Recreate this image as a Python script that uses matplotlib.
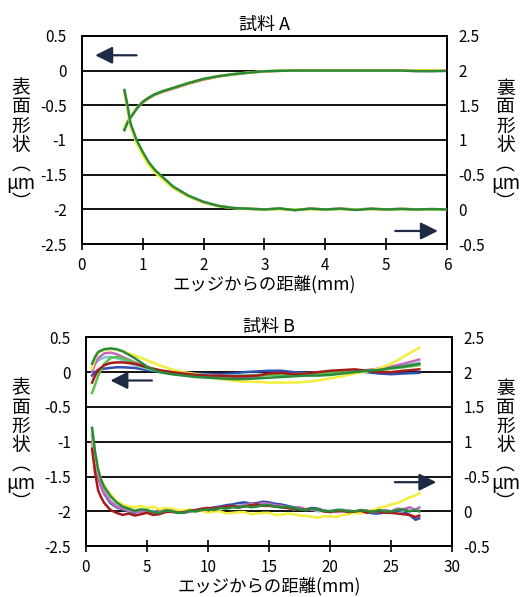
import matplotlib.pyplot as plt

plt.rcParams['font.family'] = ['Noto Sans CJK JP', 'DejaVu Sans']

# ---- 試料 A ----
xa = [0.7, 0.75, 0.8, 0.9, 1.0, 1.1, 1.2, 1.35, 1.5, 1.75, 2.0, 2.25, 2.5, 2.75,
      3.0, 3.25, 3.5, 3.75, 4.0, 4.25, 4.5, 4.75, 5.0, 5.25, 5.5, 5.75, 6.0]
# surface shape (left axis)
a_front = {
    'orange': [-0.84, -0.74, -0.67, -0.55, -0.46, -0.40, -0.35, -0.30, -0.26, -0.19, -0.13, -0.085, -0.055, -0.03,
               -0.012, -0.004, 0.0, 0.0, 0.0, 0.0, 0.0, 0.0, 0.0, 0.0, 0.0, 0.0, 0.0],
    'yellow': [-0.82, -0.73, -0.66, -0.54, -0.45, -0.39, -0.34, -0.29, -0.25, -0.18, -0.12, -0.08, -0.05, -0.028,
               -0.01, -0.003, 0.0, 0.0, 0.0, 0.0, 0.0, 0.0, 0.0, 0.0, 0.0, 0.0, 0.0],
    'green': [-0.86, -0.75, -0.68, -0.55, -0.45, -0.39, -0.34, -0.29, -0.25, -0.18, -0.12, -0.08, -0.05, -0.03,
              -0.01, -0.004, 0.0, 0.0, 0.0, 0.0, 0.0, 0.0, 0.0, 0.0, -0.01, -0.01, -0.005],
}
# back-surface shape (right axis)
a_back = {
    'orange': [1.70, 1.48, 1.22, 0.97, 0.80, 0.66, 0.55, 0.43, 0.31, 0.19, 0.10, 0.05, 0.02, 0.01,
               0.0, 0.01, -0.01, 0.01, 0.0, 0.01, 0.0, 0.01, 0.0, 0.01, 0.0, 0.005, 0.0],
    'yellow': [1.68, 1.46, 1.20, 0.95, 0.78, 0.64, 0.53, 0.42, 0.31, 0.19, 0.10, 0.045, 0.02, 0.005,
               0.0, 0.0, 0.005, 0.0, 0.0, 0.005, 0.0, 0.0, 0.0, 0.005, 0.0, 0.0, 0.0],
    'green': [1.72, 1.50, 1.24, 1.00, 0.83, 0.68, 0.57, 0.45, 0.33, 0.20, 0.11, 0.05, 0.02, 0.01,
              0.0, 0.015, -0.01, 0.012, 0.0, 0.012, -0.008, 0.01, 0.0, 0.006, 0.0, 0.005, 0.0],
}

# ---- 試料 B ----
xb_f = [0.5, 0.75, 1, 1.5, 2, 2.5, 3, 4, 5, 6, 7, 8, 9, 10, 11, 12, 13, 14, 15, 16,
        17, 18, 19, 20, 21, 22, 23, 24, 25, 26, 27.3]
b_front = {
    'blue':    [-0.05, 0.0, 0.03, 0.05, 0.06, 0.07, 0.07, 0.06, 0.03, 0.01, 0.0, -0.01, -0.02, -0.03, -0.03, -0.02,
                0.0, 0.01, 0.02, 0.02, 0.0, -0.01, -0.01, 0.0, 0.01, 0.01, 0.0, -0.02, -0.03, -0.02, -0.01],
    'cyan':    [0.05, 0.12, 0.17, 0.21, 0.22, 0.2, 0.17, 0.1, 0.05, 0.01, -0.01, -0.02, -0.03, -0.04, -0.05, -0.05,
                -0.04, -0.04, -0.03, -0.03, -0.03, -0.02, -0.01, 0.0, 0.01, 0.02, 0.02, 0.04, 0.06, 0.09, 0.13],
    'magenta': [0.0, 0.12, 0.2, 0.27, 0.28, 0.26, 0.22, 0.14, 0.07, 0.02, 0.0, -0.03, -0.05, -0.06, -0.07, -0.08,
                -0.08, -0.06, -0.03, -0.03, -0.05, -0.03, -0.02, 0.0, 0.01, 0.02, 0.03, 0.05, 0.08, 0.12, 0.18],
    'yellow':  [0.05, 0.2, 0.28, 0.32, 0.33, 0.32, 0.3, 0.24, 0.17, 0.1, 0.04, 0.0, -0.03, -0.07, -0.1, -0.12,
                -0.14, -0.14, -0.15, -0.15, -0.15, -0.14, -0.12, -0.09, -0.06, -0.02, 0.01, 0.05, 0.12, 0.22, 0.35],
    'lime':    [-0.3, -0.18, -0.05, 0.12, 0.2, 0.22, 0.2, 0.13, 0.06, 0.01, -0.02, -0.04, -0.05, -0.06, -0.06, -0.06,
                -0.05, -0.05, -0.04, -0.04, -0.04, -0.03, -0.02, -0.01, 0.0, 0.01, 0.02, 0.03, 0.05, 0.07, 0.1],
    'darkred': [-0.15, -0.05, 0.03, 0.1, 0.13, 0.14, 0.14, 0.12, 0.07, 0.03, 0.0, -0.02, -0.04, -0.05, -0.05, -0.06,
                -0.06, -0.05, -0.02, -0.01, -0.03, -0.02, 0.0, 0.02, 0.03, 0.04, 0.02, 0.0, 0.0, 0.02, 0.04],
    'green':   [0.12, 0.22, 0.29, 0.33, 0.34, 0.33, 0.3, 0.2, 0.08, 0.0, -0.03, -0.05, -0.07, -0.08, -0.09, -0.1,
                -0.1, -0.09, -0.08, -0.07, -0.06, -0.05, -0.05, -0.04, -0.02, 0.0, 0.02, 0.03, 0.06, 0.08, 0.12],
}
xb_b = [0.5, 0.75, 1, 1.25, 1.5, 2, 2.5, 3, 3.5, 4, 4.5, 5, 5.5, 6, 6.5, 7, 7.5, 8, 8.5, 9, 9.5, 10,
        10.5, 11, 11.5, 12, 12.5, 13, 13.5, 14, 14.5, 15, 15.5, 16, 16.5, 17, 17.5, 18, 18.5, 19, 19.5, 20,
        20.5, 21, 21.5, 22, 22.5, 23, 23.5, 24, 24.5, 25, 25.5, 26, 26.5, 27, 27.3]
b_back = {
    'blue':    [1.1, 0.75, 0.5, 0.35, 0.25, 0.12, 0.06, 0.03, 0.0, -0.02, 0.01, 0.01, -0.02, -0.01, 0.02, 0.02,
                -0.01, -0.02, 0.01, 0.01, 0.03, 0.04, 0.06, 0.07, 0.09, 0.1, 0.12, 0.13, 0.11, 0.12, 0.14, 0.13,
                0.11, 0.1, 0.08, 0.06, 0.05, 0.03, 0.05, 0.04, 0.01, 0.0, 0.02, 0.02, -0.01, -0.01, 0.01, 0.0,
                -0.03, -0.03, -0.01, -0.02, 0.01, 0.0, -0.05, -0.12, -0.1],
    'cyan':    [1.05, 0.72, 0.5, 0.37, 0.28, 0.15, 0.08, 0.04, 0.01, 0.0, 0.02, -0.01, 0.01, -0.02, 0.0, 0.01,
                -0.02, 0.0, -0.01, 0.01, 0.02, 0.03, 0.04, 0.06, 0.05, 0.07, 0.09, 0.08, 0.1, 0.09, 0.08, 0.1,
                0.07, 0.06, 0.05, 0.03, 0.04, 0.02, 0.03, 0.0, 0.01, -0.01, 0.01, 0.0, 0.02, -0.01, 0.0, 0.01,
                -0.01, 0.0, 0.02, 0.0, 0.03, 0.01, 0.05, 0.03, 0.06],
    'magenta': [1.0, 0.7, 0.48, 0.35, 0.26, 0.14, 0.07, 0.04, 0.02, 0.0, -0.01, 0.01, -0.02, 0.0, 0.01, -0.01,
                0.0, -0.02, 0.0, 0.02, 0.01, 0.04, 0.05, 0.05, 0.07, 0.08, 0.07, 0.09, 0.11, 0.1, 0.12, 0.11,
                0.09, 0.08, 0.06, 0.05, 0.06, 0.03, 0.02, 0.03, 0.0, 0.01, -0.01, 0.0, 0.01, 0.0, -0.02, 0.0,
                0.01, -0.01, 0.02, 0.0, 0.04, 0.03, 0.06, 0.02, 0.05],
    'yellow':  [1.15, 0.8, 0.58, 0.45, 0.37, 0.25, 0.15, 0.1, 0.07, 0.06, 0.08, 0.05, 0.07, 0.03, 0.05, 0.04,
                0.02, 0.01, 0.03, 0.0, 0.01, -0.02, 0.0, 0.0, -0.03, -0.02, -0.01, -0.01, -0.04, -0.03, -0.02, -0.02,
                -0.05, -0.05, -0.03, -0.04, -0.06, -0.06, -0.08, -0.09, -0.07, -0.07, -0.08, -0.05, -0.04, -0.02, -0.03, 0.0,
                0.02, 0.05, 0.07, 0.1, 0.12, 0.16, 0.2, 0.23, 0.26],
    'darkred': [0.9, 0.55, 0.3, 0.2, 0.12, 0.02, -0.02, -0.05, -0.03, -0.06, -0.04, -0.02, -0.05, -0.04, -0.01, 0.0,
                -0.02, -0.01, 0.01, 0.02, 0.04, 0.05, 0.04, 0.06, 0.07, 0.08, 0.06, 0.07, 0.09, 0.1, 0.08, 0.08,
                0.07, 0.06, 0.05, 0.04, 0.03, 0.02, 0.04, 0.03, 0.0, -0.01, 0.01, 0.01, -0.01, 0.0, 0.01, -0.02,
                0.0, 0.0, -0.02, -0.02, -0.03, -0.04, -0.05, -0.08, -0.06],
    'green':   [1.2, 0.85, 0.6, 0.45, 0.35, 0.22, 0.13, 0.07, 0.04, 0.01, 0.03, 0.02, -0.01, -0.02, 0.01, 0.01,
                -0.02, -0.02, 0.01, 0.0, 0.02, 0.03, 0.02, 0.05, 0.04, 0.06, 0.05, 0.08, 0.06, 0.07, 0.09, 0.09,
                0.07, 0.06, 0.07, 0.05, 0.03, 0.02, 0.04, 0.03, 0.01, 0.0, 0.02, 0.02, 0.0, 0.0, 0.02, 0.01,
                -0.01, 0.02, 0.0, 0.0, 0.02, 0.03, 0.0, 0.02, 0.0],
}

colors = {
    'orange': '#d0642c', 'yellow': '#f2ee3a', 'green': '#2a8a3c', 'lime': '#5cc04a',
    'blue': '#2f4fb0', 'cyan': '#7cc8d8', 'magenta': '#c46ab8', 'darkred': '#a61c1c',
}

right_labels = ['-0.5', '0', '-0.5', '1', '1.5', '2', '2.5']
left_ticks = [-2.5, -2, -1.5, -1, -0.5, 0, 0.5]
left_labels = ['-2.5', '-2', '-1.5', '-1', '-0.5', '0', '0.5']
arrow_col = '#1d2b45'
fs = 11


def panel(rect, title, xmax, xstep, xf, front, xb, back, arrows):
    ax = fig.add_axes(rect)
    ax.set_xlim(0, xmax)
    ax.set_ylim(-2.5, 0.5)
    for y in [-2, -1.5, -1, -0.5, 0]:
        ax.axhline(y, color='black', lw=1.3, zorder=1)
    for k, v in front.items():
        ax.plot(xf, v, color=colors[k], lw=1.8, zorder=3)
    ax.set_yticks(left_ticks)
    ax.set_yticklabels(left_labels, fontsize=fs)
    ax.tick_params(axis='y', length=0, pad=11)
    ax.set_xticks(range(0, xmax + 1, xstep))
    ax.tick_params(axis='x', direction='inout', length=8, width=1.2, pad=5, labelsize=fs)
    for s in ax.spines.values():
        s.set_linewidth(1.3)
    ax.set_title(title, fontsize=13, pad=4)
    ax.set_xlabel('エッジからの距離(mm)', fontsize=12.5, labelpad=1)

    ax2 = ax.twinx()
    ax2.set_ylim(-0.5, 2.5)
    for k, v in back.items():
        ax2.plot(xb, v, color=colors[k], lw=1.8, zorder=3)
    ax2.set_yticks([-0.5, 0, 0.5, 1, 1.5, 2, 2.5])
    ax2.set_yticklabels(right_labels, fontsize=fs)
    ax2.tick_params(axis='y', length=0, pad=8)
    for s in ax2.spines.values():
        s.set_linewidth(1.3)

    for (x0, x1, y) in arrows:
        ax.annotate('', xy=(x1, y), xytext=(x0, y),
                    arrowprops=dict(arrowstyle='-|>,head_length=0.8,head_width=0.4',
                                    color=arrow_col, lw=1.6, shrinkA=0, shrinkB=0,
                                    mutation_scale=13))
    return ax


fig = plt.figure(figsize=(5.21, 5.97), dpi=100)

panel([0.157, 0.591, 0.701, 0.349], '試料 A', 6, 1, xa, a_front, xa, a_back,
      [(0.9, 0.22, 0.22), (5.15, 5.85, -2.31)])
panel([0.165, 0.085, 0.703, 0.350], '試料 B', 30, 5, xb_f, b_front, xb_b, b_back,
      [(5.4, 2.0, -0.12), (25.3, 28.7, -1.58)])

ylab_l = '表\n面\n形\n状\n︵\nμm\n︶'
ylab_r = '裏\n面\n形\n状\n︵\nμm\n︶'
for yc in [0.757, 0.254]:
    fig.text(0.040, yc, ylab_l, ha='center', va='center', fontsize=13.5, linespacing=0.88)
    fig.text(0.970, yc, ylab_r, ha='center', va='center', fontsize=13.5, linespacing=0.88)

fig.savefig('out.png', dpi=100)
